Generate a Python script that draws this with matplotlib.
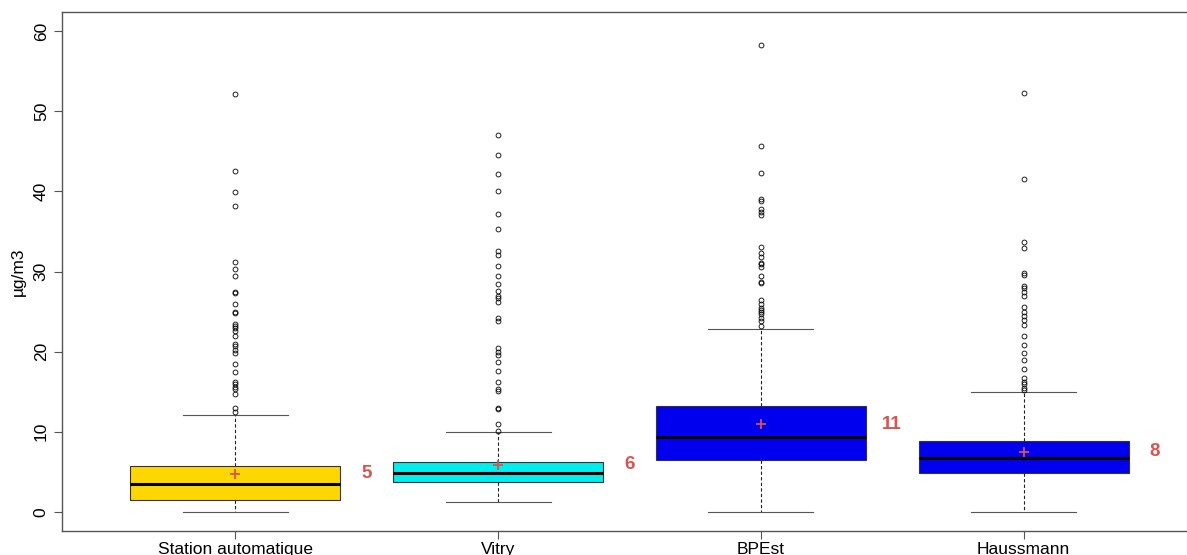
import matplotlib
matplotlib.use("Agg")
import matplotlib.pyplot as plt

plt.rcParams['font.family'] = ['Liberation Sans', 'DejaVu Sans']

# Données (µg/m3)
stations = ["Station automatique", "Vitry", "BPEst", "Haussmann"]
box_colors = ["#FFD700", "#00EEEE", "#0000EE", "#0000EE"]

q1 = [1.42, 3.68, 6.5, 4.87]
median = [3.41, 4.83, 9.39, 6.69]
q3 = [5.76, 6.16, 13.15, 8.86]
whisker_low = [0.0, 1.2, 0.0, 0.0]
whisker_high = [12.05, 9.92, 22.8, 15.0]
means = [4.74, 5.85, 10.9, 7.48]
mean_labels = ["5", "6", "11", "8"]

outliers_station = [52.1, 42.5, 39.9, 38.2, 31.2, 30.3, 29.4, 27.5, 27.3, 26.0,
                    25.0, 24.8, 23.4, 23.2, 22.9, 22.6, 21.9, 20.9, 20.7, 20.2,
                    19.8, 18.5, 17.4, 16.2, 15.9, 15.6, 15.3, 14.7, 13.0, 12.5]
outliers_vitry = [47.0, 44.5, 42.2, 40.1, 37.2, 35.3, 32.6, 32.1, 30.7, 29.5,
                  28.4, 27.6, 27.0, 26.7, 26.2, 24.2, 23.8, 20.5, 20.0, 19.6,
                  18.7, 17.6, 16.2, 15.3, 15.1, 13.0, 12.8, 10.9, 10.1]
outliers_bpest = [58.3, 45.7, 42.3, 39.1, 38.8, 37.8, 37.4, 37.1, 33.1, 32.3,
                  31.8, 31.1, 30.9, 30.5, 29.4, 28.7, 28.6, 26.4, 25.9, 25.5,
                  25.2, 24.9, 24.7, 24.2, 23.8, 23.2]
outliers_haussmann = [52.3, 41.5, 33.7, 32.9, 29.8, 29.6, 28.2, 27.9, 27.5, 27.0,
                      25.6, 25.0, 24.5, 23.9, 23.3, 22.0, 20.8, 19.8, 18.9, 17.8,
                      16.7, 16.2, 15.9, 15.5, 15.2]
outliers = [outliers_station, outliers_vitry, outliers_bpest, outliers_haussmann]

label_red = "#D9534F"

# statistiques au format attendu par bxp
stats = []
for i in range(len(stations)):
    stats.append({
        "label": stations[i],
        "q1": q1[i], "med": median[i], "q3": q3[i],
        "whislo": whisker_low[i], "whishi": whisker_high[i],
        "mean": means[i], "fliers": outliers[i],
    })

fig = plt.figure(figsize=(11.87, 5.55), dpi=100)
ax = fig.add_axes([62 / 1187, 1 - 531 / 555, (1197 - 62) / 1187, 519 / 555])

positions = list(range(1, len(stations) + 1))
bp = ax.bxp(stats, positions=positions, widths=0.8, patch_artist=True,
            showmeans=True,
            boxprops=dict(edgecolor="#333333", linewidth=0.8),
            medianprops=dict(color="black", linewidth=2.2),
            whiskerprops=dict(color="#222222", linewidth=0.8, linestyle=(0, (3, 2))),
            capprops=dict(color="#555555", linewidth=0.8),
            capwidths=0.4,
            flierprops=dict(marker="o", markersize=3.5, markerfacecolor="none",
                            markeredgecolor="black", markeredgewidth=0.6),
            meanprops=dict(marker="+", markersize=6.5, markeredgecolor=label_red,
                           markeredgewidth=1.3))
for patch, c in zip(bp["boxes"], box_colors):
    patch.set_facecolor(c)

for i, pos in enumerate(positions):
    ax.text(pos + 0.5, means[i], mean_labels[i], color=label_red,
            fontsize=13.5, fontweight="bold", ha="center", va="center")

ax.set_xlim(0.34, 4.66)
ax.set_ylim(-2.4, 62.4)
ax.set_yticks([0, 10, 20, 30, 40, 50, 60])
ax.set_xticks(positions)
ax.set_xticklabels(stations, fontsize=12.5)
ax.tick_params(axis="y", labelsize=12.5, labelrotation=90, length=6, color="#555555")
ax.tick_params(axis="x", length=6, color="#555555", pad=2)
for lab in ax.get_yticklabels():
    lab.set_va("center")
ax.set_ylabel("µg/m3", fontsize=12.5, labelpad=6)
for s in ax.spines.values():
    s.set_color("#555555")
    s.set_linewidth(1.0)

fig.savefig("out.png", dpi=100)
